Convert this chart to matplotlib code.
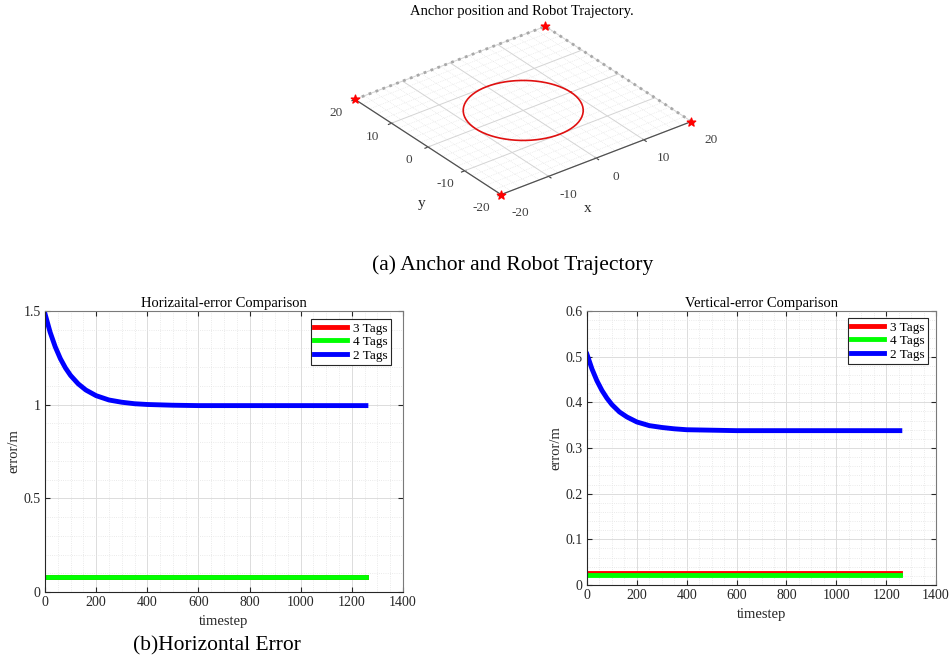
import numpy as np
import matplotlib
matplotlib.use("Agg")
import matplotlib.pyplot as plt
from matplotlib.ticker import MultipleLocator, FuncFormatter

plt.rcParams['font.family'] = ['Liberation Serif', 'DejaVu Serif']
plt.rcParams['axes.unicode_minus'] = False

# ---------------- data ----------------
anchor_x = [-20, 20, 20, -20]
anchor_y = [-20, -20, 20, 20]
circle_radius = 10
circle_deg = list(range(0, 361, 5))

timestep = [0, 20, 40, 60, 80, 100, 130, 160, 200, 250, 300, 350, 400, 500, 600, 800, 1000, 1255]
h_err_2tags = [1.485, 1.387, 1.309, 1.246, 1.196, 1.156, 1.111, 1.078, 1.048, 1.025, 1.013,
               1.005, 1.001, 0.997, 0.995, 0.995, 0.995, 0.995]
h_err_3tags = [0.078] * len(timestep)
h_err_4tags = [0.078] * len(timestep)

v_err_2tags = [0.505, 0.473, 0.447, 0.426, 0.409, 0.395, 0.379, 0.368, 0.357, 0.349, 0.345,
               0.342, 0.340, 0.339, 0.338, 0.338, 0.338, 0.338]
v_err_3tags = [0.027] * len(timestep)
v_err_4tags = [0.022] * len(timestep)

labels = ['3 Tags', '4 Tags', '2 Tags']
colors = ['#ff0000', '#00ff00', '#0000ff']

W, H = 950, 659
fig = plt.figure(figsize=(W / 100, H / 100), dpi=100)

dark = '#262626'

# ---------------- top 3D plot ----------------
ax3 = fig.add_axes([0.322, 0.627, 0.45, 0.40], projection='3d', proj_type='ortho')
ax3.patch.set_visible(False)
ax3.view_init(elev=30, azim=-127.5)
ax3.set_xlim(-20, 20)
ax3.set_ylim(-20, 20)
ax3.set_zlim(-1, 1)
ax3.set_box_aspect((1, 1, 0.001), zoom=1.25)
for axis in (ax3.xaxis, ax3.yaxis, ax3.zaxis):
    axis.set_pane_color((1, 1, 1, 0))
    axis._axinfo['grid']['color'] = (1, 1, 1, 0)
    axis.line.set_color((1, 1, 1, 0))
ax3.grid(False)
ax3.set_zticks([])
ax3.set_xticks([-20, -10, 0, 10, 20])
ax3.set_yticks([-20, -10, 0, 10, 20])
ax3.tick_params(labelsize=9.5, colors='#404040')
ax3.tick_params(axis='y', pad=2)
ax3.tick_params(axis='x', pad=5)
ax3.set_xlabel('')
ax3.set_ylabel('')

# minor / major grid on the plane
for g in np.arange(-20, 21, 2):
    major = (g % 10 == 0)
    kw = dict(color='#d4d4d4' if major else '#e2e2e2', lw=0.7 if major else 0.5,
              ls='-' if major else ':', zorder=0, clip_on=False)
    ax3.plot([g, g], [-20, 20], [0, 0], **kw)
    ax3.plot([-20, 20], [g, g], [0, 0], **kw)
# back edges
ax3.plot([-20, 20], [20, 20], [0, 0], color='#a8a8a8', lw=2, ls=':', clip_on=False)
ax3.plot([20, 20], [-20, 20], [0, 0], color='#a8a8a8', lw=2, ls=':', clip_on=False)
# front edges (axis lines)
ax3.plot([-20, 20], [-20, -20], [0, 0], color='#505050', lw=0.9, clip_on=False)
ax3.plot([-20, -20], [-20, 20], [0, 0], color='#505050', lw=0.9, clip_on=False)

th = np.deg2rad(circle_deg)
ax3.plot(circle_radius * np.cos(th), circle_radius * np.sin(th), np.zeros(len(th)),
         color='#e01010', lw=1.2, clip_on=False)
ax3.scatter(anchor_x, anchor_y, [0] * 4, marker='*', color='#ff0000', s=40,
            depthshade=False, clip_on=False)

fig.text(522 / W, 1 - 11 / H, 'Anchor position and Robot Trajectory.', ha='center',
         va='center', fontsize=10.5)
fig.text(422 / W, 1 - 203 / H, 'y', ha='center', va='center', fontsize=11, color=dark)
fig.text(588 / W, 1 - 208 / H, 'x', ha='center', va='center', fontsize=11, color=dark)

fig.text(513 / W, 1 - 265 / H, '(a) Anchor and Robot Trajectory', ha='center', va='center',
         fontsize=15.5)

fmt = FuncFormatter(lambda v, p: '%g' % round(v, 6))


# ---------------- bottom plots ----------------
def style(ax, ymajor, yminor):
    ax.xaxis.set_major_locator(MultipleLocator(200))
    ax.xaxis.set_minor_locator(MultipleLocator(50))
    ax.yaxis.set_major_locator(MultipleLocator(ymajor))
    ax.yaxis.set_minor_locator(MultipleLocator(yminor))
    ax.xaxis.set_major_formatter(fmt)
    ax.yaxis.set_major_formatter(fmt)
    ax.grid(True, which='major', color='#dcdcdc', lw=0.7)
    ax.grid(True, which='minor', color='#e3e3e3', lw=0.6, ls=':')
    ax.tick_params(which='both', direction='in', top=True, right=True, labelsize=10,
                   colors=dark, pad=3)
    ax.tick_params(which='major', length=3.5)
    ax.tick_params(which='minor', length=0)
    for s in ax.spines.values():
        s.set_color('#7a7a7a')
        s.set_linewidth(0.8)
    ax.spines['left'].set_color(dark)
    ax.spines['bottom'].set_color(dark)
    ax.set_axisbelow(True)
    ax.set_xlabel('timestep', fontsize=10.5, labelpad=4, color=dark)
    ax.set_ylabel('error/m', fontsize=10.5, labelpad=2, color=dark)


axL = fig.add_axes([45 / W, 1 - 592 / H, 358 / W, 281 / H])
axL.plot(timestep, h_err_3tags, color=colors[0], lw=3.5, label=labels[0])
axL.plot(timestep, h_err_4tags, color=colors[1], lw=3.5, label=labels[1])
axL.plot(timestep, h_err_2tags, color=colors[2], lw=3.5, label=labels[2])
axL.set_xlim(0, 1400)
axL.set_ylim(0, 1.5)
style(axL, 0.5, 0.1)
axL.set_title('Horizaital-error Comparison', fontsize=10.5, pad=3)

axR = fig.add_axes([587 / W, 1 - 585 / H, 349 / W, 274 / H])
axR.plot(timestep, v_err_3tags, color=colors[0], lw=3.5, label=labels[0])
axR.plot(timestep, v_err_4tags, color=colors[1], lw=3.5, label=labels[1])
axR.plot(timestep, v_err_2tags, color=colors[2], lw=3.5, label=labels[2])
axR.set_xlim(0, 1400)
axR.set_ylim(0, 0.6)
style(axR, 0.1, 0.02)
axR.set_title('Vertical-error Comparison', fontsize=10.5, pad=3)

for ax, (gx, gy, aw, ah) in ((axL, (12, 8, 358, 281)), (axR, (8, 7, 349, 274))):
    leg = ax.legend(loc='upper right', bbox_to_anchor=(1 - gx / aw, 1 - gy / ah),
                    borderaxespad=0, fontsize=9.5, frameon=True, fancybox=False,
                    framealpha=1, edgecolor=dark, handlelength=2.5, handletextpad=0.45,
                    labelspacing=0.1, borderpad=0.25)
    leg.get_frame().set_linewidth(0.8)

fig.text(217 / W, 1 - 646 / H, '(b)Horizontal Error', ha='center', va='center',
         fontsize=15.5)

fig.savefig('out.png', dpi=100)
